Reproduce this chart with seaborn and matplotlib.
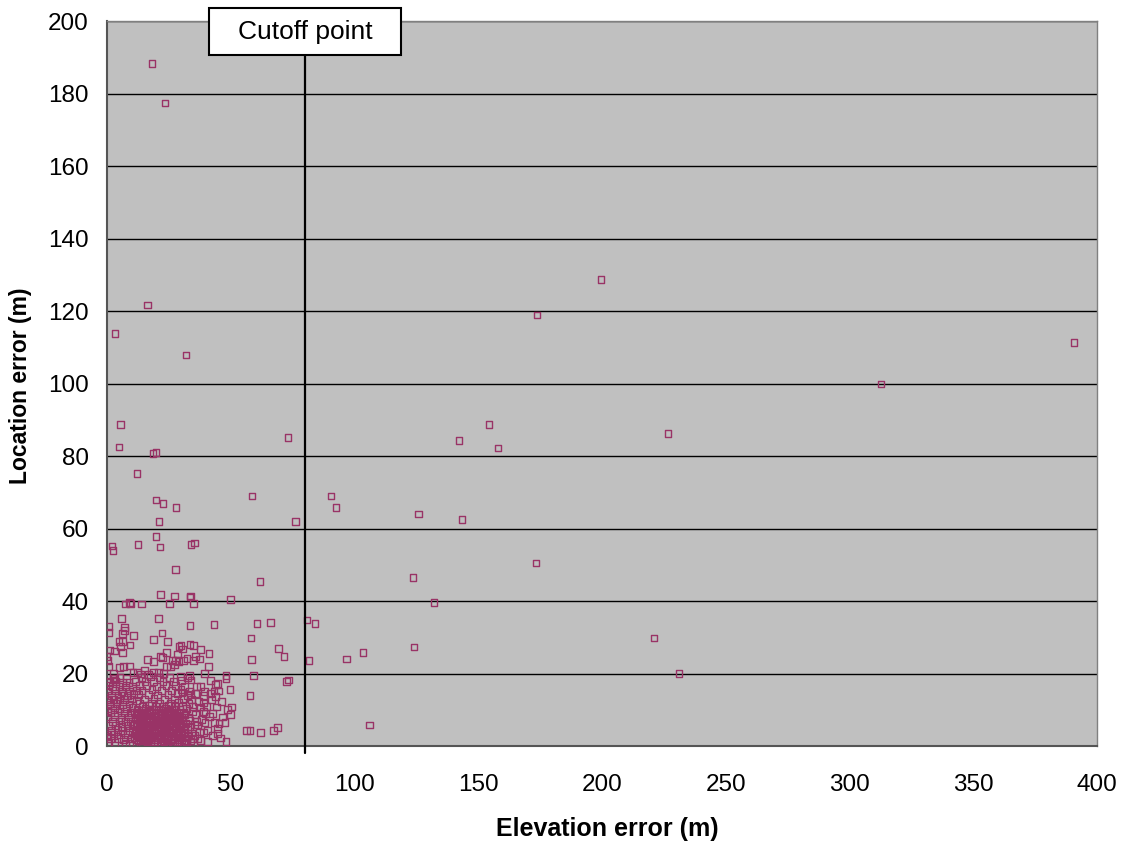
import matplotlib
matplotlib.use("Agg")
import matplotlib.pyplot as plt
import matplotlib.transforms as mtransforms
from matplotlib.patches import Rectangle
from matplotlib.lines import Line2D
import seaborn as sns
import pandas as pd

# Elevation error (m) and location error (m) of each matched point
elev_sparse = [18.2, 23.4, 16.2, 3.2, 31.9, 5.3, 4.8, 18.6, 19.8, 12.1, 19.8, 22.6, 27.9, 21.0,
               21.4, 2.0, 2.4, 12.5, 19.8, 33.9, 35.2, 27.5, 21.5, 33.5, 27.1, 33.7, 50.0, 34.9,
               7.3, 9.0, 9.6, 13.9, 25.3, 58.6, 73.1, 76.0, 61.8, 90.5, 92.5, 154.3, 142.2, 158.0,
               126.0, 143.4, 123.6, 173.3, 132.1, 199.6, 173.7, 312.7, 390.7, 226.7, 221.0, 231.1,
               80.8, 84.0, 81.6, 96.6, 103.4, 124.0, 105.9, 60.6, 66.0, 58.2, 69.2, 71.5, 58.5,
               59.3, 72.4, 73.4, 57.8, 57.8, 61.9, 67.4, 68.8]
loc_sparse = [188.4, 177.4, 121.7, 113.9, 107.9, 88.6, 82.5, 80.8, 80.9, 75.3, 67.9, 67.0, 65.7, 62.0,
              54.9, 55.2, 54.0, 55.7, 57.9, 55.7, 56.0, 48.8, 41.7, 41.1, 41.4, 41.4, 40.5, 39.4,
              39.2, 39.5, 39.4, 39.2, 39.4, 69.0, 85.2, 62.0, 45.5, 69.0, 65.7, 88.6, 84.4, 82.2,
              64.0, 62.6, 46.6, 50.5, 39.7, 128.8, 118.9, 99.9, 111.4, 86.3, 29.8, 20.1,
              34.8, 33.7, 23.7, 24.0, 25.7, 27.3, 5.8, 33.8, 34.1, 29.8, 27.0, 24.6, 23.9,
              19.5, 17.7, 18.2, 13.9, 4.2, 3.7, 4.2, 5.2]

elev_mid = [33.5, 43.2, 29.9, 30.4, 33.5, 35.0, 37.7, 41.2, 35.8, 32.3, 31.0, 34.9, 37.2, 27.7,
            29.0, 41.1, 33.3, 33.9, 32.6, 39.5, 48.1, 48.1, 41.9, 43.8, 44.7, 37.6, 49.7, 43.2,
            41.9, 38.9, 30.3, 33.7, 35.8, 48.6, 50.4, 49.8, 42.7, 41.3, 39.9, 38.9, 43.5, 47.7,
            44.6, 44.6, 42.5, 40.5, 38.9, 37.3, 56.4, 48.1, 36.1, 39.6, 36.5, 38.3, 35.4, 36.5,
            42.1, 45.0, 43.8, 39.4, 36.2, 37.6, 38.9,
            0.7, 0.7, 6.9, 7.1, 6.2, 10.6, 22.2, 18.9, 24.4, 4.8, 6.1, 9.3, 5.5, 29.1, 0.9, 3.0,
            6.2, 24.1, 0.0, 0.3, 16.4, 21.5, 22.3, 26.3, 18.7, 28.4, 5.7, 20.7,
            6.5, 5.0, 9.0, 0.5, 10.5, 12.2, 13.6, 15.1, 16.8, 18.7, 20.9, 22.7, 24.1, 25.7, 27.1,
            2.6, 2.9, 0.5, 0.6]
loc_mid = [33.3, 33.6, 27.8, 26.8, 28.1, 27.7, 26.7, 25.5, 24.8, 24.2, 23.7, 23.5, 24.0, 23.7,
           23.3, 22.0, 19.4, 18.2, 18.8, 20.1, 19.4, 18.7, 18.0, 17.0, 17.3, 16.5, 15.7, 15.2,
           14.5, 13.9, 14.7, 14.3, 14.5, 10.1, 10.8, 8.8, 8.9, 8.1, 9.0, 9.5, 6.6, 6.5,
           4.9, 3.4, 3.0, 4.4, 3.7, 3.9, 4.3, 1.2, 6.7, 6.4, 5.8, 7.4, 3.0, 2.1,
           12.9, 15.2, 13.7, 15.0, 16.4, 10.8, 11.9,
           32.9, 31.4, 32.6, 31.8, 31.1, 30.5, 31.2, 29.4, 28.9, 28.9, 28.9, 27.9, 27.4, 27.4, 26.5, 26.2,
           25.7, 25.7, 24.6, 23.7, 23.9, 24.6, 24.5, 23.7, 23.4, 25.4, 35.1, 35.1,
           22.0, 21.6, 22.1, 22.0, 20.3, 20.3, 19.9, 21.0, 19.7, 20.4, 20.4, 20.1, 21.9, 21.9, 22.6,
           20.1, 18.7, 17.7, 16.6]

# Dense cluster of small errors, listed band by band in location error
elev_core = [14.2, 17.5, 21.8, 23.9, 24.5, 27.3, 30.9,
             12.8, 15.9, 19.3, 22.6, 25.8, 28.4, 31.7, 33.9,
             11.1, 14.0, 16.7, 18.8, 20.9, 23.2, 26.1, 29.0, 32.2, 34.6,
             12.4, 15.2, 17.9, 20.1, 22.0, 24.7, 27.6, 30.3, 33.0,
             10.3, 13.6, 16.2, 19.0, 21.4, 23.6, 25.5, 28.8, 31.4, 34.1,
             11.7, 14.7, 17.1, 19.9, 22.8, 24.9, 27.0, 29.7, 32.6,
             12.9, 15.6, 18.3, 20.6, 23.1, 26.4, 28.2, 30.8, 33.5,
             10.9, 14.1, 16.9, 19.4, 21.7, 24.2, 26.9, 29.4, 31.9, 35.3,
             13.0, 15.8, 18.6, 21.1, 23.7, 25.9, 28.1, 30.6, 33.2,
             11.5, 14.5, 17.4, 20.3, 22.5, 25.1, 27.8, 30.0, 32.8,
             12.6, 16.0, 18.9, 21.9, 24.4, 26.7, 29.2, 31.5,
             13.8, 17.0, 19.6, 22.3, 25.3, 28.0, 30.9, 34.4,
             12.1, 15.3, 18.0, 20.8, 23.5, 26.2, 29.5, 32.0,
             14.4, 16.6, 19.8, 22.9, 24.8, 27.4, 30.4,
             13.2, 17.8, 21.3, 25.6, 28.9, 33.1,
             15.0, 19.0, 23.3, 27.2, 31.0, 34.0,
             12.7, 16.9, 20.4, 24.6, 28.6, 32.5,
             14.1, 18.2, 22.1, 26.0, 29.9, 33.4,
             13.0, 16.1, 20.0, 23.8, 27.5, 31.3,
             15.3, 18.9, 22.6, 26.8, 30.0,
             13.8, 17.4, 21.2, 25.1, 29.6,
             34.8, 37.9, 40.6, 45.7, 35.9, 37.0, 40.2, 44.1, 46.5, 34.6, 46.3, 45.2]
loc_core = [0.6, 0.5, 0.7, 0.4, 0.8, 0.6, 0.7,
            1.4, 1.5, 1.3, 1.4, 1.6, 1.3, 1.5, 1.4,
            2.2, 2.3, 2.1, 2.2, 2.4, 2.2, 2.1, 2.3, 2.2, 2.0,
            3.0, 3.1, 2.9, 3.0, 3.2, 3.0, 2.9, 3.1, 3.0,
            3.8, 3.9, 3.7, 3.8, 4.0, 3.8, 3.7, 3.9, 3.8, 3.6,
            4.6, 4.7, 4.5, 4.6, 4.8, 4.6, 4.5, 4.7, 4.6,
            5.4, 5.5, 5.3, 5.4, 5.6, 5.4, 5.3, 5.5, 5.4,
            6.2, 6.3, 6.1, 6.2, 6.4, 6.2, 6.1, 6.3, 6.2, 6.0,
            7.0, 7.1, 6.9, 7.0, 7.2, 7.0, 6.9, 7.1, 7.0,
            7.8, 7.9, 7.7, 7.8, 8.0, 7.8, 7.7, 7.9, 7.8,
            8.6, 8.7, 8.5, 8.6, 8.8, 8.6, 8.5, 8.7,
            9.4, 9.5, 9.3, 9.4, 9.6, 9.4, 9.3, 9.5,
            10.2, 10.3, 10.1, 10.2, 10.4, 10.2, 10.1, 10.3,
            11.0, 11.1, 10.9, 11.0, 11.2, 11.0, 10.9,
            11.8, 11.9, 11.7, 11.8, 12.0, 11.8,
            13.0, 13.1, 12.9, 13.0, 13.2, 12.8,
            14.2, 14.3, 14.1, 14.2, 14.4, 14.0,
            15.4, 15.5, 15.3, 15.4, 15.6, 15.2,
            16.6, 16.7, 16.5, 16.6, 16.8, 16.4,
            17.8, 17.9, 17.7, 17.8, 18.0,
            19.0, 19.1, 18.9, 19.0, 19.2,
            0.9, 1.6, 1.2, 2.2, 8.8, 12.2, 11.0, 10.8, 8.0, 10.9, 12.4, 6.2]

# Second, interleaved layer of the densest part of the cluster
elev_core2 = [13.5, 16.4, 19.0, 20.5, 23.0, 26.6, 29.3, 32.0,
              12.0, 14.9, 17.6, 20.2, 22.1, 24.3, 27.1, 30.0,
              13.1, 15.7, 18.1, 21.5, 24.0, 26.9, 29.8,
              11.4, 14.2, 16.9, 19.3, 22.8, 25.9, 28.3, 31.1,
              12.6, 15.4, 18.2, 20.7, 23.4, 26.5, 29.0,
              13.7, 16.3, 19.1, 21.8, 24.2, 27.7, 31.5,
              11.8, 14.8, 17.7, 20.1, 22.6, 25.3, 27.5, 29.8,
              13.3, 15.9, 18.2, 20.8, 23.0, 25.6, 28.3,
              12.2, 14.9, 17.0, 19.6, 22.2, 24.6, 27.0, 29.3,
              13.5, 16.5, 19.8, 23.1, 26.0, 28.6,
              11.9, 15.1, 18.0, 20.9, 23.9, 27.2,
              14.0, 16.8, 21.6, 24.4, 27.0]
loc_core2 = [1.0, 1.1, 0.9, 1.0, 1.2, 1.0, 0.9, 1.1,
             1.8, 1.9, 1.7, 1.8, 2.0, 1.8, 1.7, 1.9,
             2.6, 2.7, 2.5, 2.6, 2.8, 2.6, 2.5,
             3.4, 3.5, 3.3, 3.4, 3.6, 3.4, 3.3, 3.5,
             4.2, 4.3, 4.1, 4.2, 4.4, 4.2, 4.1,
             5.0, 5.1, 4.9, 5.0, 5.2, 5.0, 4.9,
             5.8, 5.9, 5.7, 5.8, 6.0, 5.8, 5.7, 5.9,
             6.6, 6.7, 6.5, 6.6, 6.8, 6.6, 6.5,
             7.4, 7.5, 7.3, 7.4, 7.6, 7.4, 7.3, 7.5,
             8.2, 8.3, 8.1, 8.2, 8.4, 8.2,
             9.0, 9.1, 8.9, 9.0, 9.2, 9.0,
             9.8, 9.9, 9.7, 9.8, 10.0]

# Points close to zero elevation error
elev_left = [0.6, 3.1, 7.3, 9.2, 1.4, 4.6, 6.8, 9.9, 0.3, 2.7, 5.4, 8.3, 1.9, 4.1, 6.2, 9.0,
             0.8, 3.5, 5.9, 8.1, 10.4, 2.2, 4.8, 7.5, 9.6, 0.4, 3.0, 5.6, 8.6,
             1.6, 4.3, 6.9, 9.4, 11.0, 0.2, 2.9, 5.1, 7.8, 10.1, 1.3, 3.8, 6.4, 8.9,
             0.5, 2.6, 5.0, 7.2, 9.8, 11.9, 1.8, 4.4, 6.6, 8.4, 10.8, 0.1, 3.3, 5.8, 9.1, 12.0,
             2.1, 4.9, 7.6, 10.3, 0.9, 3.6, 6.3, 8.9, 11.4, 2.4, 5.2, 7.9, 7.3, 0.2, 0.1, 0.3]
loc_left = [0.8, 0.9, 0.5, 0.7, 2.0, 2.1, 1.9, 2.0, 3.2, 3.3, 3.1, 3.2, 4.4, 4.5, 4.3, 4.4,
            5.6, 5.7, 5.5, 5.6, 5.8, 6.8, 6.9, 6.7, 6.8, 8.0, 8.1, 7.9, 8.0,
            9.2, 9.3, 9.1, 9.2, 9.4, 10.4, 10.5, 10.3, 10.4, 10.6, 11.6, 11.7, 11.5, 11.6,
            12.8, 12.9, 12.7, 12.8, 13.0, 12.6, 14.0, 14.1, 13.9, 14.0, 14.2, 15.2, 15.3, 15.1, 15.2, 15.4,
            16.4, 16.5, 16.3, 16.4, 17.6, 17.7, 17.5, 17.6, 17.8, 18.8, 18.9, 18.7, 0.7, 12.7, 9.5, 2.8]

x_ticks = [0, 50, 100, 150, 200, 250, 300, 350, 400]
y_ticks = [0, 20, 40, 60, 80, 100, 120, 140, 160, 180, 200]
cutoff = 80
cutoff_label = "Cutoff point"

df = pd.DataFrame({
    "Elevation error (m)": elev_sparse + elev_mid + elev_core + elev_core2 + elev_left,
    "Location error (m)": loc_sparse + loc_mid + loc_core + loc_core2 + loc_left,
})

sns.set_theme(style="white")
plt.rcParams["font.family"] = ["Liberation Sans", "DejaVu Sans"]
plt.rcParams["text.color"] = "black"
plt.rcParams["axes.labelcolor"] = "black"

fig = plt.figure(figsize=(11.28, 8.43), dpi=100)
ax = fig.add_axes([0.0949, 0.115, 0.8776, 0.860])
ax.set_facecolor("#C0C0C0")

sns.scatterplot(data=df, x="Elevation error (m)", y="Location error (m)", ax=ax,
                marker="s", s=24, facecolors="none", edgecolor="#993366",
                linewidth=1.0, zorder=3)

ax.set_xlim(0, 400)
ax.set_ylim(0, 200)
ax.set_xticks(x_ticks)
ax.set_yticks(y_ticks)
ax.tick_params(axis="both", direction="out", length=6, width=1.0, color="#404040",
               labelsize=17.5, labelcolor="black")
ax.tick_params(axis="y", pad=7)
ax.tick_params(axis="x", pad=14)
ax.yaxis.grid(True, color="black", linewidth=1.0)
ax.xaxis.grid(False)
ax.set_axisbelow(True)
for side in ["left", "bottom"]:
    ax.spines[side].set_color("#555555")
    ax.spines[side].set_linewidth(1.5)
for side in ["top", "right"]:
    ax.spines[side].set_color("#808080")
    ax.spines[side].set_linewidth(1.0)

ax.set_xlabel("Elevation error (m)", fontsize=18, fontweight="bold", color="black")
ax.set_ylabel("Location error (m)", fontsize=16.5, fontweight="bold", color="black")
ax.xaxis.set_label_coords(0.505, -0.098)
ax.yaxis.set_label_coords(-0.076, 0.497)

# Cutoff marker: vertical line with a labelled box above the plot
trans = mtransforms.blended_transform_factory(ax.transData, ax.transAxes)
ax.add_line(Line2D([cutoff, cutoff], [-0.009, 0.953], transform=trans, color="black",
                   linewidth=1.6, clip_on=False, zorder=4))
box_w = 77.6
ax.add_patch(Rectangle((cutoff - box_w / 2, 0.953), box_w, 0.065, transform=trans,
                       facecolor="white", edgecolor="black", linewidth=1.5,
                       clip_on=False, zorder=5))
ax.text(cutoff, 0.9855, cutoff_label, transform=trans, ha="center", va="center",
        fontsize=19, color="black", zorder=6)

fig.savefig("out.png", dpi=100)
